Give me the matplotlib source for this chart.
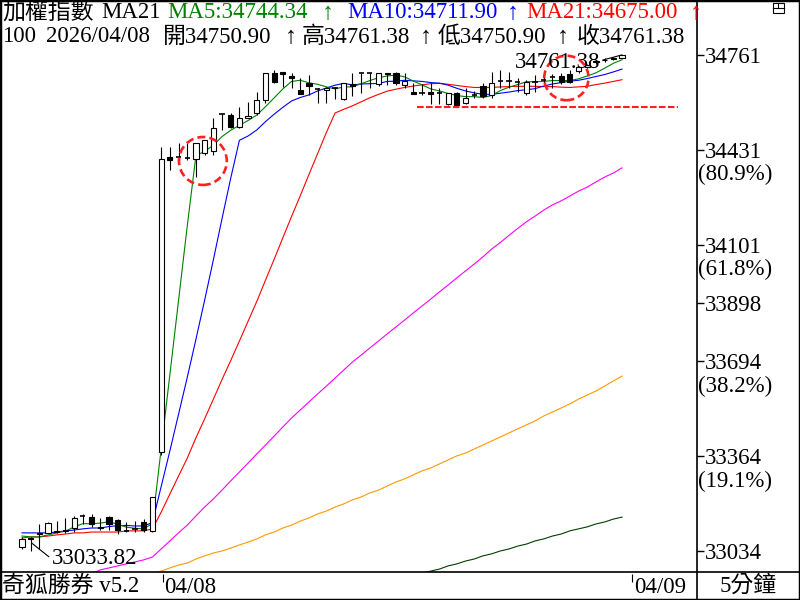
#Recreates a 5-minute candlestick chart of the weighted index with moving averages.
import matplotlib
matplotlib.use("Agg")
import matplotlib.pyplot as plt
from matplotlib.patches import Ellipse, Rectangle
from matplotlib.lines import Line2D

plt.rcParams['font.family'] = ['Liberation Serif', 'Noto Sans CJK TC', 'DejaVu Sans']

nan = float('nan')

#candles: 16 bars of 04/07, then 54 bars of 04/08
opens = [33048, 33079, 33093, 33097, 33100, 33104, 33114, 33156, 33152, 33114,
         33152, 33142, 33104, 33111, 33135, 33104, 33379, 34406, 34406, 34402,
         34399, 34420, 34427, 34556, 34552, 34510, 34542, 34559, 34604, 34698,
         34702, 34688, 34639, 34664, 34643, 34639, 34646, 34608, 34660, 34698,
         34698, 34660, 34698, 34698, 34657, 34632, 34629, 34632, 34629, 34590,
         34629, 34594, 34622, 34653, 34622, 34670, 34670, 34667, 34629, 34667,
         34674, 34684, 34688, 34695, 34705, 34720, 34735, 34742, 34748, 34750.90]
highs = [33083, 33083, 33128, 33135, 33138, 33149, 33156, 33163, 33163, 33149,
         33156, 33145, 33135, 33138, 33145, 33222, 34441, 34441, 34455, 34455,
         34455, 34465, 34542, 34556, 34559, 34580, 34597, 34632, 34698, 34709,
         34702, 34698, 34681, 34691, 34646, 34650, 34650, 34664, 34698, 34698,
         34698, 34698, 34698, 34702, 34698, 34664, 34660, 34664, 34646, 34629,
         34632, 34646, 34636, 34664, 34702, 34709, 34702, 34681, 34674, 34691,
         34688, 34695, 34698, 34709, 34724, 34730, 34745, 34750, 34755, 34761.38]
lows = [33041, 33033.82, 33041, 33097, 33097, 33097, 33100, 33128, 33117, 33107,
        33107, 33093, 33100, 33100, 33100, 33100, 33368, 34361, 34388, 34395,
        34336, 34413, 34413, 34500, 34507, 34507, 34542, 34552, 34594, 34664,
        34650, 34646, 34625, 34622, 34594, 34594, 34608, 34604, 34618, 34629,
        34646, 34653, 34657, 34657, 34646, 34625, 34622, 34590, 34590, 34587,
        34587, 34590, 34611, 34611, 34611, 34646, 34646, 34632, 34622, 34632,
        34660, 34646, 34660, 34664, 34700, 34715, 34730, 34738, 34745, 34750.90]
closes = [33076, 33076, 33097, 33131, 33104, 33107, 33149, 33156, 33128, 33117,
          33128, 33107, 33104, 33111, 33107, 33222, 34399, 34395, 34406, 34402,
          34455, 34465, 34507, 34556, 34510, 34542, 34549, 34604, 34698, 34667,
          34695, 34681, 34625, 34653, 34643, 34646, 34646, 34664, 34653, 34698,
          34698, 34698, 34695, 34664, 34670, 34625, 34629, 34625, 34629, 34629,
          34587, 34611, 34622, 34618, 34664, 34670, 34670, 34667, 34667, 34667,
          34674, 34684, 34667, 34667, 34718, 34725, 34740, 34745, 34750, 34761.38]

#moving averages
ma5 = [33086, 33083, 33083, 33090, 33097, 33103, 33118, 33129, 33129, 33131,
       33136, 33127, 33117, 33113, 33111, 33130, 33389, 33647, 33906, 34165,
       34411, 34425, 34447, 34477, 34499, 34516, 34533, 34552, 34581, 34612,
       34643, 34669, 34673, 34664, 34659, 34650, 34643, 34650, 34650, 34661,
       34672, 34682, 34688, 34691, 34685, 34670, 34657, 34643, 34636, 34627,
       34620, 34616, 34616, 34613, 34620, 34637, 34649, 34658, 34668, 34668,
       34669, 34672, 34672, 34672, 34678, 34688, 34699, 34715, 34732, 34744.34]
ma10 = [33097, 33097, 33097, 33097, 33100, 33104, 33107, 33111, 33114, 33114,
        33119, 33122, 33123, 33121, 33121, 33133, 33258, 33382, 33510, 33638,
        33771, 33907, 34047, 34191, 34332, 34464, 34479, 34500, 34529, 34555,
        34579, 34601, 34613, 34622, 34636, 34646, 34656, 34662, 34657, 34660,
        34661, 34662, 34669, 34670, 34673, 34671, 34669, 34665, 34663, 34656,
        34645, 34636, 34629, 34624, 34624, 34628, 34632, 34637, 34640, 34644,
        34653, 34660, 34665, 34670, 34673, 34679, 34686, 34693, 34702, 34711.90]
ma21 = [33079, 33083, 33083, 33086, 33090, 33093, 33097, 33097, 33100, 33100,
        33100, 33100, 33104, 33104, 33104, 33111, 33169, 33232, 33295, 33357,
        33428, 33494, 33562, 33631, 33697, 33765, 33834, 33903, 33977, 34050,
        34125, 34199, 34271, 34345, 34418, 34491, 34559, 34572, 34584, 34598,
        34612, 34624, 34635, 34642, 34648, 34653, 34657, 34661, 34662, 34659,
        34655, 34651, 34648, 34648, 34648, 34650, 34651, 34652, 34652, 34652,
        34651, 34651, 34649, 34648, 34650, 34652, 34658, 34663, 34669, 34675.00]
#longer averages (no legend entry in the header)
ma_magenta = [nan, nan, nan, nan, nan, nan, nan, nan, 32955, 32968,
              32975, 32982, 32989, 32996, 33003, 33013, 33041, 33069, 33097, 33124,
              33156, 33187, 33215, 33246, 33278, 33309, 33340, 33372, 33403, 33434,
              33466, 33497, 33525, 33553, 33581, 33608, 33636, 33664, 33692, 33716,
              33741, 33765, 33790, 33814, 33838, 33863, 33887, 33911, 33936, 33960,
              33985, 34009, 34033, 34058, 34085, 34108, 34133, 34157, 34180, 34200,
              34221, 34239, 34253, 34270, 34287, 34301, 34319, 34336, 34350, 34368]
ma_orange = [nan] * 15 + [32955,
             32964, 32975, 32985, 32992, 33006, 33017, 33027, 33034, 33044, 33055,
             33065, 33076, 33090, 33100, 33114, 33124, 33138, 33149, 33163, 33173,
             33187, 33198, 33212, 33222, 33236, 33246, 33260, 33274, 33285, 33299,
             33313, 33323, 33337, 33351, 33365, 33375, 33389, 33403, 33417, 33431,
             33445, 33459, 33473, 33487, 33504, 33518, 33532, 33546, 33563, 33577,
             33591, 33608, 33626, 33643]
ma_dkgreen = [nan] * 46 + [32957,
              32964, 32971, 32982, 32989, 32999, 33006, 33017, 33024, 33034, 33041,
              33051, 33058, 33069, 33076, 33086, 33093, 33104, 33111, 33118, 33128,
              33135, 33145, 33152]

#right axis levels (low/high and fibonacci retracements)
tick_values = [34761, 34431, 34101, 33898, 33694, 33364, 33034]
pct_labels = {34431: "(80.9%)", 34101: "(61.8%)", 33694: "(38.2%)", 33364: "(19.1%)"}

day_starts = [16, 70]
day_labels = ["04/08", "04/09"]
support_level = 34580

FS = 16.5

fig = plt.figure(figsize=(8, 6), dpi=100)
ax = fig.add_axes([0, 28/600, 697/800, 572/600])
ax.set_xlim(-2.53, 77.62)
ax.set_ylim(32960.8, 34952.5)
for s in ax.spines.values():
    s.set_visible(False)
ax.set_xticks([])

x = list(range(len(closes)))

#moving average lines (drawn under the candles)
ax.plot(x, ma_dkgreen, color='#004000', lw=0.8)
ax.plot(x, ma_orange, color='#ff9900', lw=0.8)
ax.plot(x, ma_magenta, color='#ff00ff', lw=0.8)
ax.plot(x, ma21, color='#ff0000', lw=0.8)
ax.plot(x, ma10, color='#0000ff', lw=0.8)
ax.plot(x, ma5, color='#008000', lw=0.8)

#candles
w = 0.6
for i in x:
    o, h, l, c = opens[i], highs[i], lows[i], closes[i]
    ax.vlines(i, l, h, color='black', lw=0.8, zorder=3)
    if c > o:
        ax.bar(i, c - o, bottom=o, width=w, color='white', edgecolor='black', lw=0.8, zorder=4)
    elif c < o:
        ax.bar(i, o - c, bottom=c, width=w, color='black', edgecolor='black', lw=0.8, zorder=4)
    else:
        ax.hlines(o, i - w/2, i + w/2, color='black', lw=1.2, zorder=4)

#highlight circles and support line
ax.add_patch(Ellipse((20.8, 34392), 5.5, 167, fill=False, edgecolor='#ff2020',
                     lw=1.9, linestyle=(0, (3, 1.6)), zorder=5))
ax.add_patch(Ellipse((62.6, 34681), 5.1, 155, fill=False, edgecolor='#ff2020',
                     lw=1.9, linestyle=(0, (3, 1.6)), zorder=5))
ax.hlines(support_level, 45.4, 75.4, color='#ff2020', lw=1.5, linestyles=(0, (3.2, 1.1)), zorder=5)

#high / low labels
ax.annotate(f"{highs[-1]:.2f}", xy=(len(closes) - 1, highs[-1]), xytext=(-22, -8),
            textcoords='offset pixels', ha='right', va='center', fontsize=FS,
            arrowprops=dict(arrowstyle='-', lw=0.8, color='black', shrinkA=0, shrinkB=0, relpos=(1, 0.6)),
            zorder=6)
ax.annotate(f"{min(lows):.2f}", xy=(1.1, 33062), xytext=(20, -16),
            textcoords='offset pixels', ha='left', va='center', fontsize=FS,
            arrowprops=dict(arrowstyle='-', lw=0.8, color='black', shrinkA=0, shrinkB=0, relpos=(0, 0.5)),
            zorder=6)

#right axis
ax.yaxis.tick_right()
ax.set_yticks(tick_values)
ax.set_yticklabels([str(v) for v in tick_values])
ax.tick_params(axis='y', direction='out', length=5, width=1, labelsize=FS, pad=1)
for v, t in pct_labels.items():
    ax.annotate(t, xy=(1, v), xycoords=('axes fraction', 'data'), xytext=(1, -25),
                textcoords='offset pixels', ha='left', va='center', fontsize=FS,
                annotation_clip=False)

#bottom strip with dates
ax2 = fig.add_axes([0, 0, 697/800, 28/600], sharex=ax)
ax2.set_ylim(0, 1)
ax2.axis('off')
for d, lab in zip(day_starts, day_labels):
    ax2.vlines(d + 0.2, 0.64, 0.93, color='black', lw=0.8)
    ax2.text(d + 0.4, 0.45, lab, ha='left', va='center', fontsize=FS)

fig.text(2/800, 1 - 586/600, "奇狐勝券 v5.2", ha='left', va='center', fontsize=FS)
fig.text(748/800, 1 - 586/600, "5分鐘", ha='center', va='center', fontsize=FS)

#header rows
row1 = 1 - 13/600
row2 = 1 - 37/600
fig.text(2/800, row1, "加權指數", va='center', fontsize=FS)
fig.text(101/800, row1, "MA21", va='center', fontsize=FS)
fig.text(167/800, row1, "MA5:34744.34", va='center', fontsize=FS, color='#008000')
fig.text(322/800, row1, "↑", va='center', fontsize=FS + 1, color='#008000')
fig.text(347/800, row1, "MA10:34711.90", va='center', fontsize=FS, color='#0000ff')
fig.text(507/800, row1, "↑", va='center', fontsize=FS + 1, color='#0000ff')
fig.text(526/800, row1, "MA21:34675.00", va='center', fontsize=FS, color='#ff0000')
fig.text(690/800, row1, "↑", va='center', fontsize=FS + 1, color='#ff0000')

fig.text(2/800, row2, "100", va='center', fontsize=FS)
fig.text(46/800, row2, "2026/04/08", va='center', fontsize=FS)
fig.text(163/800, row2, "開34750.90", va='center', fontsize=FS)
fig.text(285/800, row2, "↑", va='center', fontsize=FS + 1)
fig.text(302/800, row2, "高34761.38", va='center', fontsize=FS)
fig.text(420/800, row2, "↑", va='center', fontsize=FS + 1)
fig.text(438/800, row2, "低34750.90", va='center', fontsize=FS)
fig.text(557/800, row2, "↑", va='center', fontsize=FS + 1)
fig.text(577/800, row2, "收34761.38", va='center', fontsize=FS)

#frame lines
fig.add_artist(Rectangle((0, 0), 1, 1, transform=fig.transFigure, fill=False, lw=2.5, edgecolor='black'))
fig.add_artist(Line2D([697/800, 697/800], [0, 1], transform=fig.transFigure, color='black', lw=1.2))
fig.add_artist(Line2D([0, 1], [28/600, 28/600], transform=fig.transFigure, color='black', lw=1.2))
#small window icon
fig.add_artist(Rectangle((773/800, 1 - 13/600), 11/800, 10/600, transform=fig.transFigure,
                         fill=False, lw=0.8, edgecolor='black'))
fig.add_artist(Line2D([773/800, 784/800], [1 - 8/600, 1 - 8/600], transform=fig.transFigure, color='black', lw=0.8))
fig.add_artist(Line2D([778/800, 778/800], [1 - 3/600, 1 - 8/600], transform=fig.transFigure, color='black', lw=0.8))

fig.savefig("out.png", dpi=100)
